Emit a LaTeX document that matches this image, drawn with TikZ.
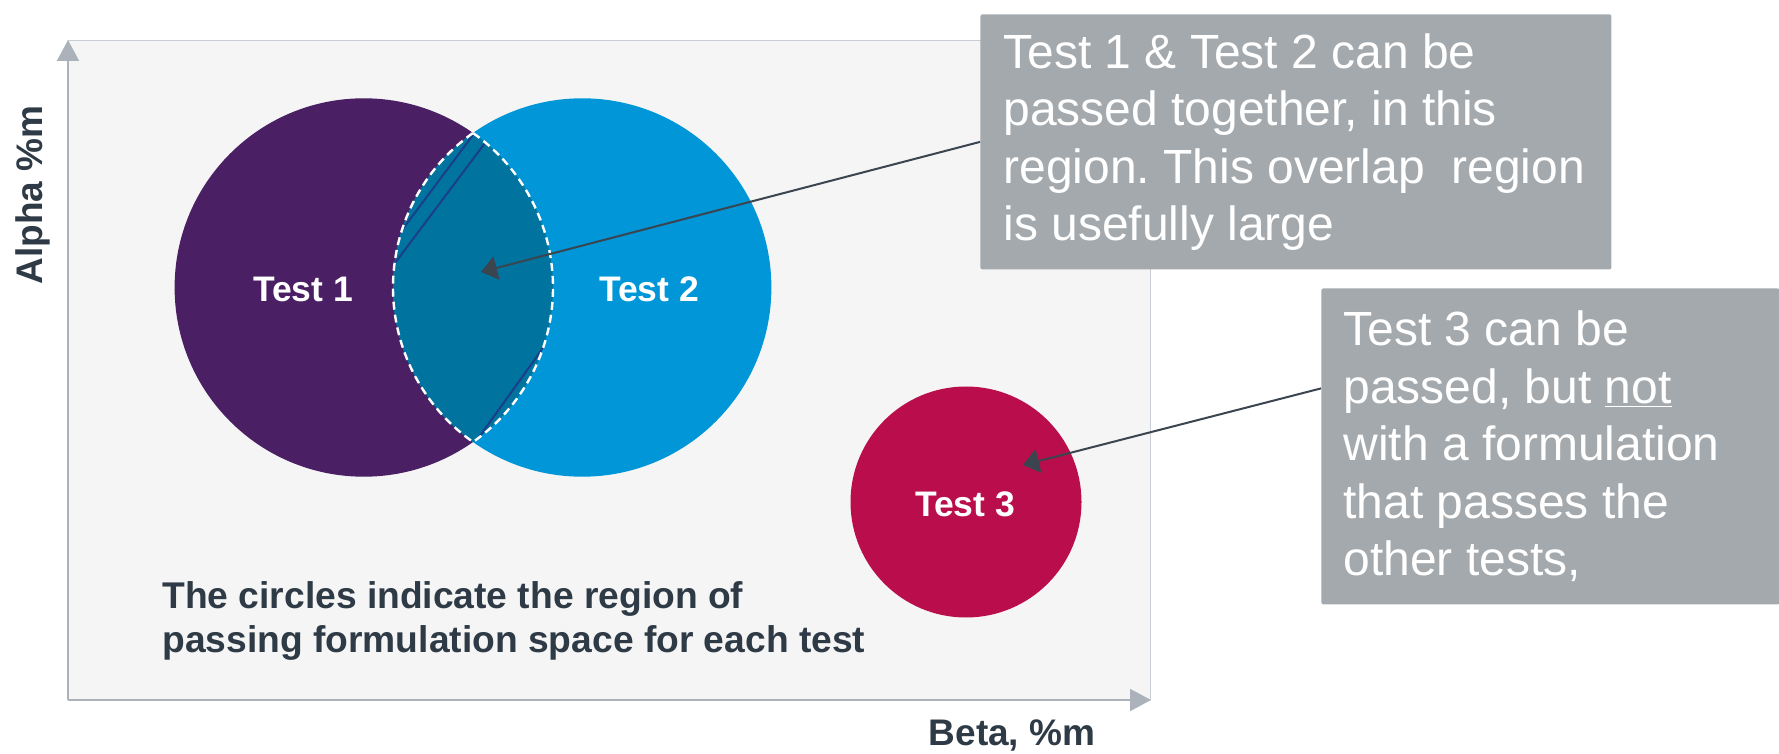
\documentclass[tikz,border=0pt]{standalone}
\usepackage{fontspec}
\setmainfont{Liberation Sans}
\usetikzlibrary{arrows.meta}
\definecolor{plotbg}{HTML}{F5F5F5}
\definecolor{axisc}{HTML}{ABB2BA}
\definecolor{borderc}{HTML}{C9CED4}
\definecolor{t1c}{HTML}{4A1F63}
\definecolor{t2c}{HTML}{0096D7}
\definecolor{lensc}{HTML}{00739E}
\definecolor{t3c}{HTML}{B90E4B}
\definecolor{hatchc}{HTML}{1B3F8B}
\definecolor{darktext}{HTML}{2E3A45}
\definecolor{arrowc}{HTML}{3A4550}
\definecolor{calloutc}{HTML}{A3A9AD}
\frenchspacing
\begin{document}
\begin{tikzpicture}[x=0.5pt,y=-0.5pt,
 testlabel/.style={text=white,font=\fontsize{17.75}{21}\selectfont\bfseries,inner sep=0,anchor=base},
 axislabel/.style={text=darktext,font=\fontsize{18.5}{22}\selectfont\bfseries,inner sep=0,anchor=base},
 captionline/.style={text=darktext,font=\fontsize{18.6}{22}\selectfont\bfseries,inner sep=0,anchor=base west},
 callout/.style={fill=calloutc,rounded corners=1pt,inner sep=0,anchor=north west},
 callouttext/.style={text=white,font=\fontsize{24}{28.75}\selectfont,align=left,inner sep=0,anchor=west},
 axisline/.style={draw=axisc,line width=1pt,-{Triangle[length=10.5pt,width=11pt]}},
 pointer/.style={draw=arrowc,line width=1pt,-{Triangle[length=8pt,width=12pt]}},
 hatch/.style={draw=hatchc,line width=1pt},
 lensedge/.style={draw=white,line width=1.2pt,dash pattern=on 4pt off 2.5pt},
]
\useasboundingbox (0,0) rectangle (1779,754);
% coordinates
\coordinate (orig) at (68,700);
\coordinate (ytop) at (68,40);
\coordinate (xend) at (1151,700);
\coordinate (c1) at (363.8,287.5);
\coordinate (c2) at (582.2,287.5);
\coordinate (c3) at (966,502);
\coordinate (ltop) at (473,133);
\coordinate (tip1) at (481,272);
\coordinate (tip2) at (1023,465);
% plot area
\fill[plotbg] (68,40) rectangle (1151,700);
\draw[borderc,line width=0.75pt] (68,40.5) -- (1150.5,40.5) -- (1150.5,700);
\draw[axisline] (orig) -- (ytop);
\draw[axisline] (orig) -- (xend);
% circles
\fill[t1c] (c1) circle[radius=94.6pt];
\fill[t2c] (c2) circle[radius=94.6pt];
\fill[t3c] (c3) circle[radius=57.75pt];
% lens
\fill[lensc] (ltop) arc[start angle=125.25,end angle=234.75,radius=94.6pt]
  arc[start angle=-54.75,end angle=54.75,radius=94.6pt] -- cycle;
\begin{scope}
\clip (ltop) arc[start angle=125.25,end angle=234.75,radius=94.6pt]
  arc[start angle=-54.75,end angle=54.75,radius=94.6pt] -- cycle;
\draw[hatch] (508.5,87.5) -- (366.5,277.5);
\draw[hatch] (530,83) -- (350,323);
\draw[hatch] (576,302) -- (444,486);
\end{scope}
\draw[lensedge] (ltop) arc[start angle=125.25,end angle=234.75,radius=94.6pt]
  arc[start angle=-54.75,end angle=54.75,radius=94.6pt] -- cycle;
% labels
\node[testlabel] (l1) at (303,302) {Test 1};
\node[testlabel] (l2) at (649,302) {Test 2};
\node[testlabel] (l3) at (965,516.7) {Test 3};
\node[axislabel,rotate=90] (ya) at (42.7,195) {Alpha \%m};
\node[axislabel] (xa) at (1012,745) {Beta, \%m};
\node[captionline] (cap1) at (162,608) {The circles indicate the region of};
\node[captionline] (cap2) at (162,652) {passing formulation space for each test};
% callouts
\node[callout,minimum width=315.5pt,minimum height=127.5pt] (box1) at (980,14) {};
\node[callout,minimum width=229pt,minimum height=158pt] (box2) at (1321,288) {};
\draw[pointer] (box1.west) -- (tip1);
\draw[pointer] ([yshift=29pt]box2.west) -- (tip2);
\node[callouttext] (txt1) at ([xshift=11.5pt]box1.west) {Test 1 \& Test 2 can be\\passed together, in this\\region. This overlap\ \ region\\is usefully large};
\node[callouttext] (txt2) at ([xshift=11pt]box2.west) {Test 3 can be\\passed, but \underline{not}\\with a formulation\\that passes the\\other tests,};
\end{tikzpicture}
\end{document}
